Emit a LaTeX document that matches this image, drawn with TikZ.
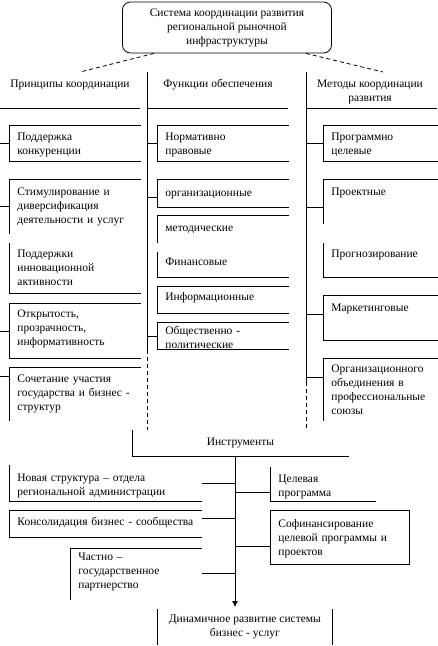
\documentclass[tikz,border=0pt]{standalone}
\usepackage{fontspec}
\setmainfont{Liberation Serif}
\usetikzlibrary{arrows.meta}

\begin{document}
\begin{tikzpicture}[
x=1pt,y=-1pt,
font=\fontsize{11.5pt}{14pt}\selectfont,
line width=0.8pt,
cell/.style={anchor=north west,align=left,inner xsep=8pt,inner ysep=0pt,text height=15pt},
head/.style={inner sep=1pt,align=center},
dashline/.style={dash pattern=on 4pt off 3pt},
arrow/.style={-{Latex[length=6pt,width=6pt]},shorten >=2pt}
]
\useasboundingbox (0,0) rectangle (437,646);

% top of the scheme
\node[draw,rounded corners=8pt,minimum width=209pt,minimum height=51pt,align=center,inner sep=0pt] (sys) at (227,27.5) {Система координации развития\\региональной рыночной\\инфраструктуры};

\node[head] (hPrin) at (70,85) {Принципы координации};
\node[head] (hFunc) at (218,85) {Функции обеспечения};
\node[head] (hMeth) at (370,91.5) {Методы координации\\развития};

\coordinate (dL) at (80,72);
\coordinate (dR) at (383,72);
\coordinate (spA) at (147,72);
\coordinate (spB) at (306,72);
\coordinate (lft) at (0,0);
\coordinate (tk) at (235,0);

\draw[dashline] ([xshift=32pt]sys.south west) -- (dL);
\draw[dashline] ([xshift=-26pt]sys.south east) -- (dR);

\draw (0,108) -- (140,108);
\draw (148,108) -- (288,108);
\draw (306,108) -- (437,108);

% principles
\node[cell,text width=115pt,text depth=21pt] (L1) at (9,125) {Поддержка\\конкуренции};
\node[cell,text width=115pt,text depth=38pt,text height=16pt] (L2) at (9,179) {Стимулирование и\\диверсификация\\деятельности и услуг};
\node[cell,text width=115pt,text depth=36pt,text height=14pt] (L3) at (9,243) {Поддержки\\инновационной\\активности};
\node[cell,text width=115pt,text depth=41pt,text height=14pt] (L4) at (9,303) {Открытость,\\прозрачность,\\информативность};
\node[cell,text width=115pt,text depth=38pt] (L5) at (9,367) {Сочетание участия\\государства и бизнес -\\структур};

\draw (L1.north east) -- (L1.north west) -- (L1.south west) -- (L1.south east);
\draw (L2.north east) -- (L2.north west) -- (L2.south west);
\draw (L3.north west) -- (L3.south west) -- (L3.south east);
\draw (L4.north east) -- (L4.north west) -- (L4.south west) -- (L4.south east);
\draw (L5.north east) -- (L5.north west) -- (L5.south west);

\draw (L1.west) -- (L1.west -| lft);
\draw (L2.west) -- (L2.west -| lft);
\draw (L4.west) -- (L4.west -| lft);
\draw ([yshift=-9pt]L5.north west) -- ([yshift=-9pt]L5.north west -| lft);

% functions
\node[cell,text width=115pt,text depth=21pt] (M1) at (157,125) {Нормативно\\правовые};
\node[cell,text width=115pt,text depth=11pt,text height=17pt] (M2) at (157,179) {организационные};
\node[cell,text width=115pt,text depth=11pt,text height=16pt] (M3) at (157,215) {методические};
\node[cell,text width=115pt,text depth=12pt,text height=13pt] (M4) at (157,252) {Финансовые};
\node[cell,text width=115pt,text depth=13pt,text height=14pt] (M5) at (157,286) {Информационные};
\node[cell,text width=115pt,text depth=15pt,text height=12pt] (M6) at (157,322) {Общественно -\\политические};

\draw (M1.north east) -- (M1.north west) -- (M1.south west) -- (M1.south east);
\draw (M2.north east) -- (M2.north west) -- (M2.south west) -- (M2.south east);
\draw (M3.north east) -- (M3.north west) -- (M3.south west);
\draw (M4.north west) -- (M4.south west) -- (M4.south east);
\draw (M5.north east) -- (M5.north west) -- (M5.south west) -- (M5.south east);
\draw (M6.north east) -- (M6.north west) -- (M6.south west) -- (M6.south east);

\draw (M1.west) -- (M1.west -| spA);
\draw ([yshift=-4pt]M2.west) -- ([yshift=-4pt]M2.west -| spA);
\draw (M6.west) -- (M6.west -| spA);

% methods
\node[cell,text width=98pt,text depth=21pt] (R1) at (323,125) {Программно\\целевые};
\node[cell,text width=98pt,text depth=28pt,text height=16pt] (R2) at (323,179) {Проектные};
\node[cell,text width=98pt,text depth=20pt,text height=14pt] (R3) at (323,243) {Прогнозирование};
\node[cell,text width=98pt,text depth=29pt,text height=16pt] (R4) at (323,295) {Маркетинговые};
\node[cell,text width=98pt,text depth=48pt,text height=14pt] (R5) at (323,358) {Организационного\\объединения в\\профессиональные\\союзы};

\draw (R1.north east) -- (R1.north west) -- (R1.south west) -- (R1.south east);
\draw (R2.north east) -- (R2.north west) -- (R2.south west);
\draw (R3.north west) -- (R3.south west) -- (R3.south east);
\draw (R4.north east) -- (R4.north west) -- (R4.south west) -- (R4.south east);
\draw (R5.north east) -- (R5.north west) -- (R5.south west);

\draw (R1.west) -- (R1.west -| spB);
\draw ([yshift=-6pt]R2.west) -- ([yshift=-6pt]R2.west -| spB);
\draw ([yshift=4pt]R4.west) -- ([yshift=4pt]R4.west -| spB);
\draw ([yshift=-19pt]R5.north west) -- ([yshift=-19pt]R5.north west -| spB);

% instruments
\node[anchor=north west,minimum width=216pt,minimum height=26pt,inner sep=0pt] (instr) at (132,430) {Инструменты};
\draw (instr.north west) -- (instr.south west) -- (instr.south east);

\draw (spA) -- (spA |- M6.south);
\draw[dashline] (spA |- M6.south) -- (spA |- instr.north);
\draw (spB) -- ([yshift=-24pt]spB |- R5.north west);
\draw[dashline] ([yshift=-24pt]spB |- R5.north west) -- (spB |- instr.north);

\node[cell,text width=176pt,text depth=20pt,text height=16pt] (B1) at (9,465) {Новая структура – отдела\\региональной администрации};
\node[cell,text width=176pt,text depth=12pt] (B2) at (9,510) {Консолидация бизнес - сообщества};
\node[cell,text width=115pt,text depth=39pt,text height=12pt] (B3) at (70,548) {Частно –\\государственное\\партнерство};
\node[cell,text width=89pt,text depth=19pt] (C1) at (270,467) {Целевая\\программа};
\node[cell,draw,text width=123pt,text depth=37pt,text height=17pt] (C2) at (270,510) {Софинансирование\\целевой программы и\\проектов};
\node[anchor=north west,minimum width=175pt,minimum height=35pt,inner sep=0pt,align=center] (dyn) at (157,609) {Динамичное развитие системы\\бизнес - услуг};

\draw (B1.north west) -- (B1.south west) -- (B1.south east);
\draw (B2.north east) -- (B2.north west) -- (B2.south west) -- (B2.south east);
\draw (B3.north east) -- (B3.north west) -- (B3.south west);
\draw (C1.north west) -- (C1.south west) -- (C1.south east);
\draw (dyn.north west) -- (dyn.south west);
\draw (dyn.north east) -- (dyn.south east);

\draw ([yshift=-18pt]B1.north east) -- ([yshift=-18pt]B1.north east -| tk);
\draw ([yshift=-8pt]B2.north east) -- ([yshift=-8pt]B2.north east -| tk);
\draw ([yshift=-25pt]B3.north east) -- ([yshift=-25pt]B3.north east -| tk);
\draw ([yshift=-8pt]C1.west) -- ([yshift=-8pt]C1.west -| tk);
\draw ([yshift=-9pt]C2.west) -- ([yshift=-9pt]C2.west -| tk);

\draw[arrow] (instr.south -| tk) -- (dyn.north -| tk);
\end{tikzpicture}
\end{document}
